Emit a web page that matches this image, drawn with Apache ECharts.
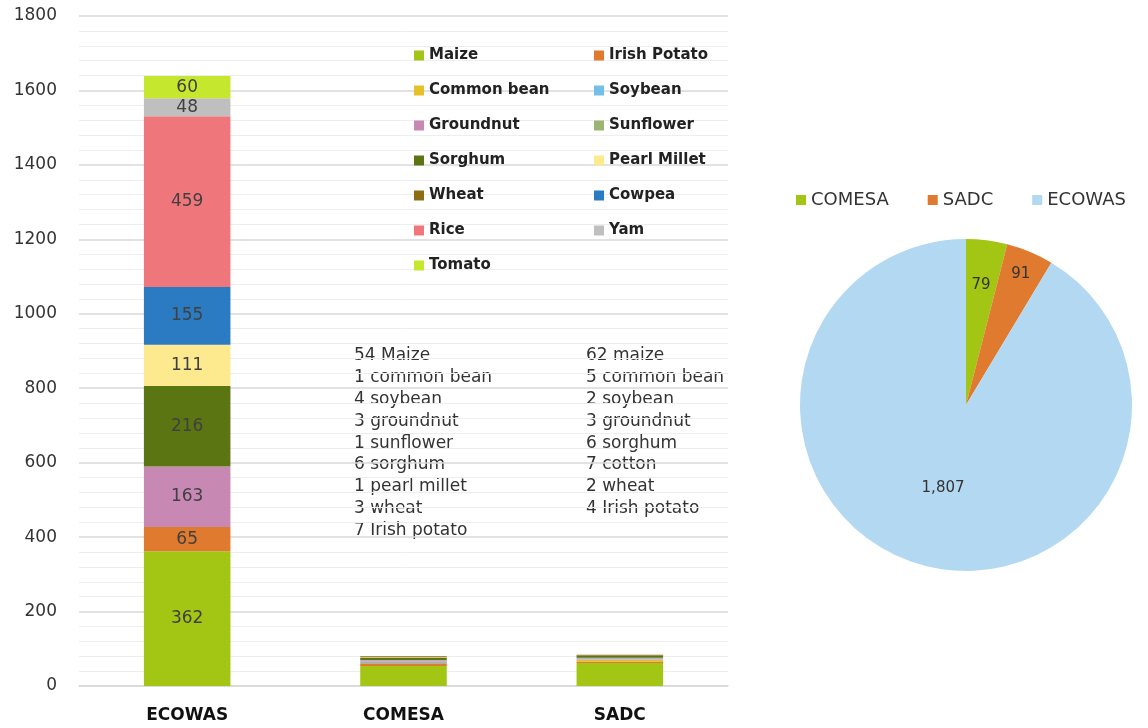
<!DOCTYPE html>
<html>
<head>
<meta charset="utf-8">
<script src="https://cdn.jsdelivr.net/npm/echarts@6/dist/echarts.min.js"></script>
<style>
html, body { margin: 0; background: #fff; }
#chart { width: 1148px; height: 728px; }
</style>
</head>
<body>
<div id="chart"></div>
<script>
// regions on the x axis
var regions = ['ECOWAS', 'COMESA', 'SADC'];

// crops, in stacking / legend order
var crops = ['Maize', 'Irish Potato', 'Common bean', 'Soybean', 'Groundnut', 'Sunflower',
    'Sorghum', 'Pearl Millet', 'Wheat', 'Cowpea', 'Rice', 'Yam', 'Tomato'];
var cropColors = ['#a3c614', '#e07a2e', '#e6c02a', '#74bfe9', '#c888b4', '#9cb472',
    '#5b7512', '#fde98e', '#8c6d12', '#2a7bc1', '#ef767b', '#bfbfbf', '#c5e82e'];

// values per crop: ECOWAS, COMESA, SADC
var maize       = [362, 54, 62];
var irishPotato = [65, 7, 4];
var commonBean  = [0, 1, 5];
var soybean     = [0, 4, 2];
var groundnut   = [163, 3, 3];
var sunflower   = [0, 1, 0];
var sorghum     = [216, 6, 6];
var pearlMillet = [111, 1, 0];
var wheat       = [0, 3, 2];
var cowpea      = [155, 0, 0];
var rice        = [459, 0, 0];
var yam         = [48, 0, 0];
var tomato      = [60, 0, 0];
var cropValues = [maize, irishPotato, commonBean, soybean, groundnut, sunflower,
    sorghum, pearlMillet, wheat, cowpea, rice, yam, tomato];

// pie
var pieNames  = ['COMESA', 'SADC', 'ECOWAS'];
var pieValues = [79, 91, 1807];
var pieColors = ['#a3c614', '#e07a2e', '#b3d9f2'];

// notes beside the small bars
var comesaNote = ['54 Maize', '1 common bean', '4 soybean', '3 groundnut', '1 sunflower',
    '6 sorghum', '1 pearl millet', '3 wheat', '7 Irish potato'];
var sadcNote = ['62 maize', '5 common bean', '2 soybean', '3 groundnut', '6 sorghum',
    '7 cotton', '2 wheat', '4 Irish potato'];

var font = 'DejaVu Sans';
var pieCenter = [966, 405];
// push the small slice labels outwards, like the original
var pieLabelPush = [1.4, 1.65, 1.0];
var chart = echarts.init(document.getElementById('chart'));

var barSeries = crops.map(function (name, i) {
    return {
        name: name,
        type: 'bar',
        stack: 'total',
        barWidth: '40%',
        itemStyle: { color: cropColors[i] },
        label: {
            show: true,
            position: 'inside',
            fontSize: 17,
            color: '#404040',
            formatter: function (p) { return p.dataIndex === 0 && p.value > 0 ? p.value : ''; }
        },
        data: cropValues[i]
    };
});

var legendLeft = crops.filter(function (c, i) { return i % 2 === 0; });
var legendRight = crops.filter(function (c, i) { return i % 2 === 1; });
var cropLegend = {
    orient: 'vertical',
    top: 43,
    icon: 'rect',
    itemWidth: 10,
    itemHeight: 10,
    itemGap: 20,
    textStyle: { fontFamily: font, fontSize: 15, fontWeight: 'bold', color: '#222', lineHeight: 15 }
};

option = {
    textStyle: { fontFamily: font },
    animation: false,
    legend: [
        Object.assign({ left: 409, data: legendLeft }, cropLegend),
        Object.assign({ left: 589, data: legendRight }, cropLegend),
        {
            left: 791,
            top: 186,
            icon: 'rect',
            itemWidth: 10,
            itemHeight: 10,
            itemGap: 39,
            textStyle: { fontFamily: font, fontSize: 18, color: '#333' },
            data: pieNames
        }
    ],
    grid: { left: 79, right: 420, top: 16, bottom: 42 },
    xAxis: {
        type: 'category',
        data: regions,
        axisLine: { lineStyle: { color: '#d9d9d9', width: 1.5 } },
        axisTick: { show: false },
        axisLabel: { fontSize: 17, fontWeight: 'bold', color: '#111', margin: 21 }
    },
    yAxis: {
        type: 'value',
        min: 0,
        max: 1800,
        interval: 200,
        axisLine: { show: false },
        axisTick: { show: false },
        axisLabel: { fontSize: 17, color: '#333', margin: 22, formatter: function (v) { return String(v); } },
        splitLine: { lineStyle: { color: '#d9d9d9', width: 1.5 } },
        minorTick: { show: false, splitNumber: 5 },
        minorSplitLine: { show: true, lineStyle: { color: '#eeeeee' } }
    },
    graphic: [
        {
            type: 'text', left: 354, top: 345,
            style: { text: comesaNote.join('\n'), font: '17px "DejaVu Sans"', fill: '#333', lineHeight: 21.8 }
        },
        {
            type: 'text', left: 586, top: 345,
            style: { text: sadcNote.join('\n'), font: '17px "DejaVu Sans"', fill: '#333', lineHeight: 21.8 }
        }
    ],
    series: barSeries.concat([{
        type: 'pie',
        center: pieCenter,
        radius: 166,
        startAngle: 90,
        label: {
            show: true,
            position: 'inside',
            fontSize: 15,
            color: '#333',
            formatter: function (p) { return p.value.toLocaleString('en-US'); }
        },
        labelLine: { show: false },
        labelLayout: function (params) {
            var r = params.labelRect;
            var k = pieLabelPush[params.dataIndex] - 1;
            var cx = r.x + r.width / 2 - pieCenter[0];
            var cy = r.y + r.height / 2 - pieCenter[1];
            return { dx: cx * k, dy: cy * k };
        },
        data: pieNames.map(function (n, i) {
            return { name: n, value: pieValues[i], itemStyle: { color: pieColors[i] } };
        })
    }])
};

chart.setOption(option);
</script>
</body>
</html>
